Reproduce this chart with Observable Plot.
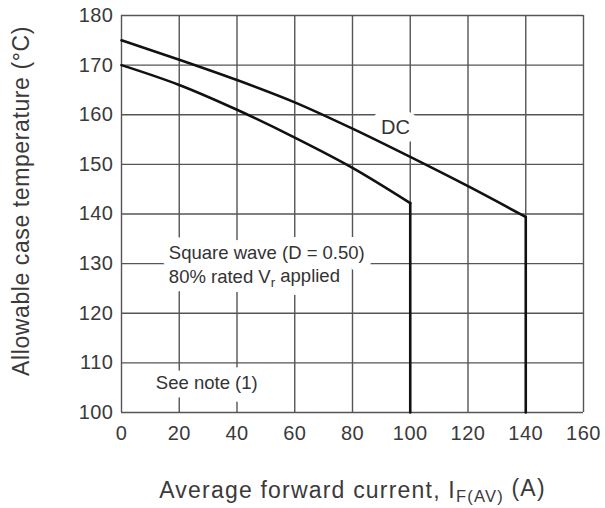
<!DOCTYPE html>
<html>
<head>
<meta charset="utf-8">
<script src="https://cdn.jsdelivr.net/npm/d3@7"></script>
<script src="https://cdn.jsdelivr.net/npm/@observablehq/plot@0.6"></script>
<style>
  html, body { margin: 0; padding: 0; background: #fff; }
</style>
</head>
<body>
<div id="chart"></div>
<script>
// ---- data ----
const xTicks = [0, 20, 40, 60, 80, 100, 120, 140, 160];
const yTicks = [100, 110, 120, 130, 140, 150, 160, 170, 180];

// last two points of each series are the vertical drop at the current limit
const dcCurrent = [0, 20, 40, 60, 80, 100, 120, 140, 140];
const dcTemp    = [175, 171.1, 167.0, 162.5, 157.2, 151.5, 145.6, 139.4, 100];

const sqCurrent = [0, 20, 40, 60, 80, 100, 100];
const sqTemp    = [170, 166.0, 161.0, 155.4, 149.3, 142.2, 100];

const xTitleParts = ["Average forward current, I", "F(AV)", " (A)"];
const yTitle = "Allowable case temperature (°C)";

const sqLine1 = "Square wave (D = 0.50)";
const sqLine2Parts = ["80% rated V", "r", " applied"];
const noteText = "See note (1)";
const dcText = "DC";

// annotation anchors in data units (current A, temperature °C)
const noteX = [16.4, 16.4, 11.9];
const noteY = [132.1, 127.2, 105.9];
const dcLabelX = 94.9;
const dcLabelY = 157.4;

// ---- build tables ----
function toTable(xs, ys, name) {
  const rows = [];
  const n = xs.length;
  xs.forEach((x, i) => {
    if (i < n - 1) rows.push({x, y: ys[i], seg: name + "-curve"});
    if (i >= n - 2) rows.push({x, y: ys[i], seg: name + "-drop"});
  });
  return rows;
}
const curveData = [...toTable(dcCurrent, dcTemp, "dc"), ...toTable(sqCurrent, sqTemp, "sq")];
const notes = [sqLine1, sqLine2Parts.join(""), noteText].map((text, i) => ({x: noteX[i], y: noteY[i], text}));

const gridColor = "#555";
const textColor = "#3a3a3a";

const chart = Plot.plot({
  width: 605,
  height: 508,
  marginLeft: 121,
  marginRight: 22,
  marginTop: 15,
  marginBottom: 96,
  style: {fontFamily: "'Liberation Sans', Arial, sans-serif", fontSize: "20px", color: textColor, background: "#fff"},
  x: {domain: [0, 160]},
  y: {domain: [100, 180]},
  marks: [
    Plot.ruleX(xTicks, {stroke: gridColor, strokeWidth: 1.4}),
    Plot.ruleY(yTicks, {stroke: gridColor, strokeWidth: 1.4}),
    Plot.axisX(xTicks, {tickSize: 0, tickPadding: 13, label: null, fontSize: 20}),
    Plot.axisY(yTicks, {tickSize: 0, tickPadding: 8, label: null, fontSize: 20}),
    // white boxes (halos) behind annotations, cutting the grid
    Plot.text(notes, {x: "x", y: "y", text: "text", textAnchor: "start", fontSize: 18.5, fill: "white", stroke: "white", strokeWidth: 18}),
    Plot.text([dcText], {x: () => dcLabelX, y: () => dcLabelY, text: d => d, fontSize: 20, fill: "white", stroke: "white", strokeWidth: 18}),
    Plot.line(curveData, {x: "x", y: "y", z: "seg", curve: "monotone-x", stroke: "#111", strokeWidth: 2.6, strokeLinecap: "round"}),
    Plot.text(notes, {x: "x", y: "y", text: "text", textAnchor: "start", fontSize: 18.5, fill: "#333"}),
    Plot.text([dcText], {x: () => dcLabelX, y: () => dcLabelY, text: d => d, fontSize: 20, fill: "#333"}),
    Plot.text([xTitleParts.join("")], {frameAnchor: "bottom", dy: 85, text: d => d, fontSize: 23, fill: textColor}),
    Plot.text([yTitle], {frameAnchor: "left", textAnchor: "middle", rotate: -90, dx: -100, dy: -13, text: d => d, fontSize: 23, fill: textColor})
  ]
});

function subscript(svg, parts) {
  const full = parts.join("");
  d3.select(svg).selectAll("text").filter(function() { return this.textContent === full; }).each(function() {
    const t = d3.select(this);
    t.text(null);
    t.append("tspan").text(parts[0]);
    t.append("tspan").attr("dy", "0.3em").attr("font-size", "0.72em").text(parts[1]);
    t.append("tspan").attr("dy", "-0.3em").text(parts[2]);
  });
}
subscript(chart, xTitleParts);
subscript(chart, sqLine2Parts);

// slight letter spacing to match the wide lettering of the reference
d3.select(chart).selectAll("text").filter(function() { return this.textContent === yTitle; }).attr("letter-spacing", "0.6px");
d3.select(chart).selectAll("text").filter(function() { return this.textContent === xTitleParts.join(""); }).attr("letter-spacing", "1.2px");
d3.select(chart).selectAll("[aria-label^='x-axis'] text, [aria-label^='y-axis'] text").attr("letter-spacing", "0.5px");

document.getElementById("chart").appendChild(chart);
</script>
</body>
</html>
